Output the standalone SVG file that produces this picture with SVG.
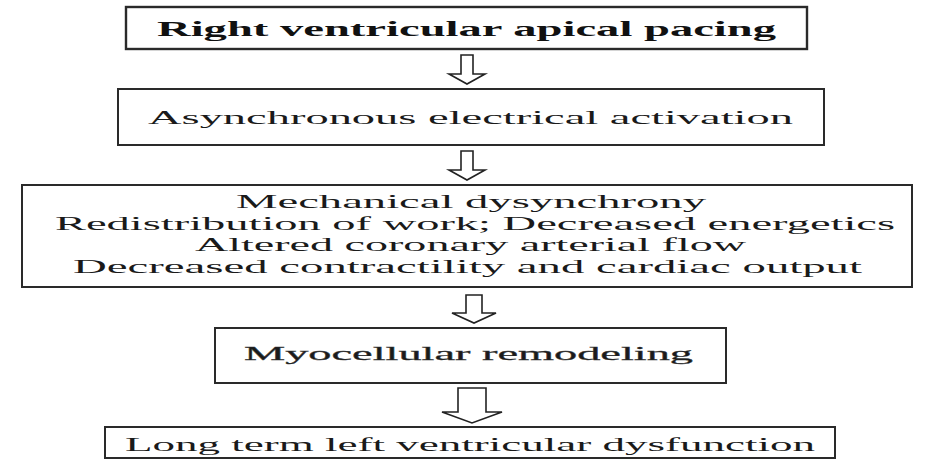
<svg xmlns="http://www.w3.org/2000/svg" width="928" height="460" viewBox="0 0 928 460">
<style>
.box{fill:#fff;stroke:#2a2a2a;stroke-width:2}
.t{font-family:"Liberation Serif","Times New Roman",serif;fill:#1a1a1a;font-size:19px}
.b{font-weight:bold;font-size:21px;fill:#111}
.m{stroke:#333;stroke-width:0.3}
.arr{fill:#fff;stroke:#222;stroke-width:1.6;stroke-linejoin:miter}
</style>
<rect width="928" height="460" fill="#fff"/>
<g id="n1">
<rect class="box" x="126" y="7" width="681" height="42" style="stroke-width:2.4"/>
<text class="t b" x="157" y="36" textLength="619" lengthAdjust="spacingAndGlyphs">Right ventricular apical pacing</text>
</g>
<g id="n2">
<rect class="box" x="118" y="89" width="706" height="56"/>
<text class="t" x="148" y="124" textLength="645" lengthAdjust="spacingAndGlyphs">Asynchronous electrical activation</text>
</g>
<g id="n3">
<rect class="box" x="22" y="185" width="890" height="102"/>
<text class="t" x="236" y="208" textLength="470" lengthAdjust="spacingAndGlyphs">Mechanical dysynchrony</text>
<text class="t" x="55" y="230" textLength="840" lengthAdjust="spacingAndGlyphs">Redistribution of work; Decreased energetics</text>
<text class="t" x="195" y="251" textLength="551" lengthAdjust="spacingAndGlyphs">Altered coronary arterial flow</text>
<text class="t" x="73" y="273" textLength="789" lengthAdjust="spacingAndGlyphs">Decreased contractility and cardiac output</text>
</g>
<g id="n4">
<rect class="box" x="215" y="328" width="511" height="55"/>
<text class="t m" x="244" y="360" textLength="449" lengthAdjust="spacingAndGlyphs">Myocellular remodeling</text>
</g>
<g id="n5">
<rect class="box" x="105" y="427" width="730" height="31"/>
<text class="t" x="125" y="451" textLength="690" lengthAdjust="spacingAndGlyphs">Long term left ventricular dysfunction</text>
</g>
<g id="connectors">
<polygon class="arr" points="461,55 473,55 473,74 485,74 467,84 449,74 461,74"/>
<polygon class="arr" points="461,151 473,151 473,170 485,170 467,180 449,170 461,170"/>
<polygon class="arr" points="466,295 482,295 482,313 496,313 474,323 452,313 466,313"/>
<polygon class="arr" points="458,388 486,388 486,412 502,412 472,423 442,412 458,412"/>
</g>
</svg>
